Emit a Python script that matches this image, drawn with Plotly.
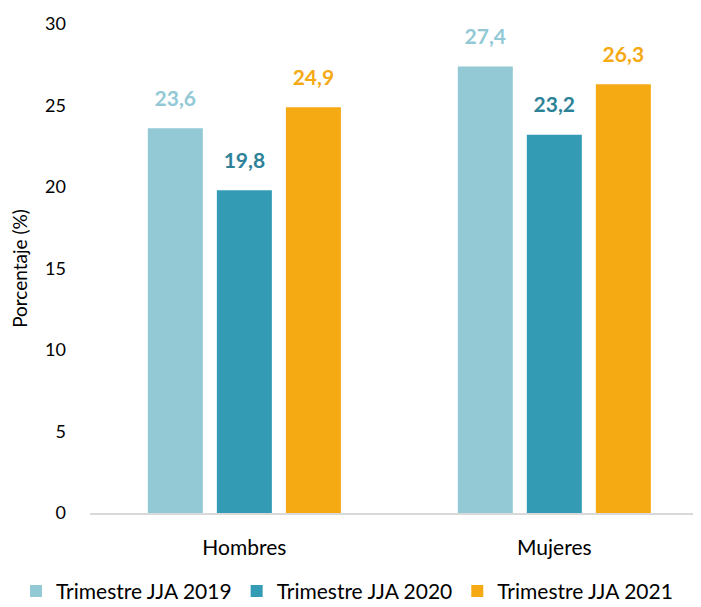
import plotly.graph_objects as go

categories = ["Hombres", "Mujeres"]
series_names = ["Trimestre JJA 2019", "Trimestre JJA 2020", "Trimestre JJA 2021"]
values_2019 = [23.6, 27.4]
values_2020 = [19.8, 23.2]
values_2021 = [24.9, 26.3]

bar_colors = ["#92C9D5", "#339BB4", "#F5A913"]
label_colors = ["#92C9D5", "#2E8298", "#F5A913"]

fig = go.Figure()
for i, (name, vals, col, lcol) in enumerate(
    zip(series_names, [values_2019, values_2020, values_2021], bar_colors, label_colors)
):
    fig.add_trace(
        go.Bar(
            x=categories,
            y=vals,
            name=name,
            offsetgroup=str(i),
            marker=dict(color=col, line=dict(width=0)),
            hoverinfo="skip",
        )
    )
    # labels as text-only scatter, grouped like the bars, lifted by an invisible marker
    fig.add_trace(
        go.Scatter(
            x=categories,
            y=vals,
            offsetgroup=str(i),
            mode="markers+text",
            marker=dict(size=26, opacity=0),
            texttemplate="%{y:.1f}",
            textposition="top center",
            textfont=dict(color=lcol, size=21, family="Lato", weight="bold"),
            cliponaxis=False,
            showlegend=False,
            hoverinfo="skip",
        )
    )

fig.update_layout(
    width=701,
    height=607,
    separators=", ",
    plot_bgcolor="white",
    paper_bgcolor="white",
    font=dict(family="Lato", size=18, color="#000000"),
    margin=dict(l=82, r=0, t=16, b=102, autoexpand=False),
    barmode="group",
    scattermode="group",
    bargap=0.332,
    scattergap=0.332,
    bargroupgap=0.203,
    showlegend=True,
    # left of and below the plot area so the legend may use the full width
    legend=dict(
        orientation="h",
        x=-0.1195,
        xanchor="left",
        y=-0.16,
        yanchor="middle",
        font=dict(size=21),
        itemwidth=30,
        tracegroupgap=0,
    ),
)
fig.update_yaxes(
    range=[0, 30],
    dtick=5,
    showgrid=False,
    zeroline=False,
    showline=False,
    ticks="",
    automargin=False,
    ticklabelstandoff=23,
    tickfont=dict(size=18),
    title=dict(text="Porcentaje (%)", standoff=13, font=dict(size=19)),
)
fig.update_xaxes(
    range=[-0.498, 1.499],
    showgrid=False,
    showline=True,
    linecolor="#D9D9D9",
    linewidth=2,
    ticks="",
    automargin=False,
    ticklabelstandoff=15,
    tickfont=dict(size=21),
)

fig.write_html("out.html")
